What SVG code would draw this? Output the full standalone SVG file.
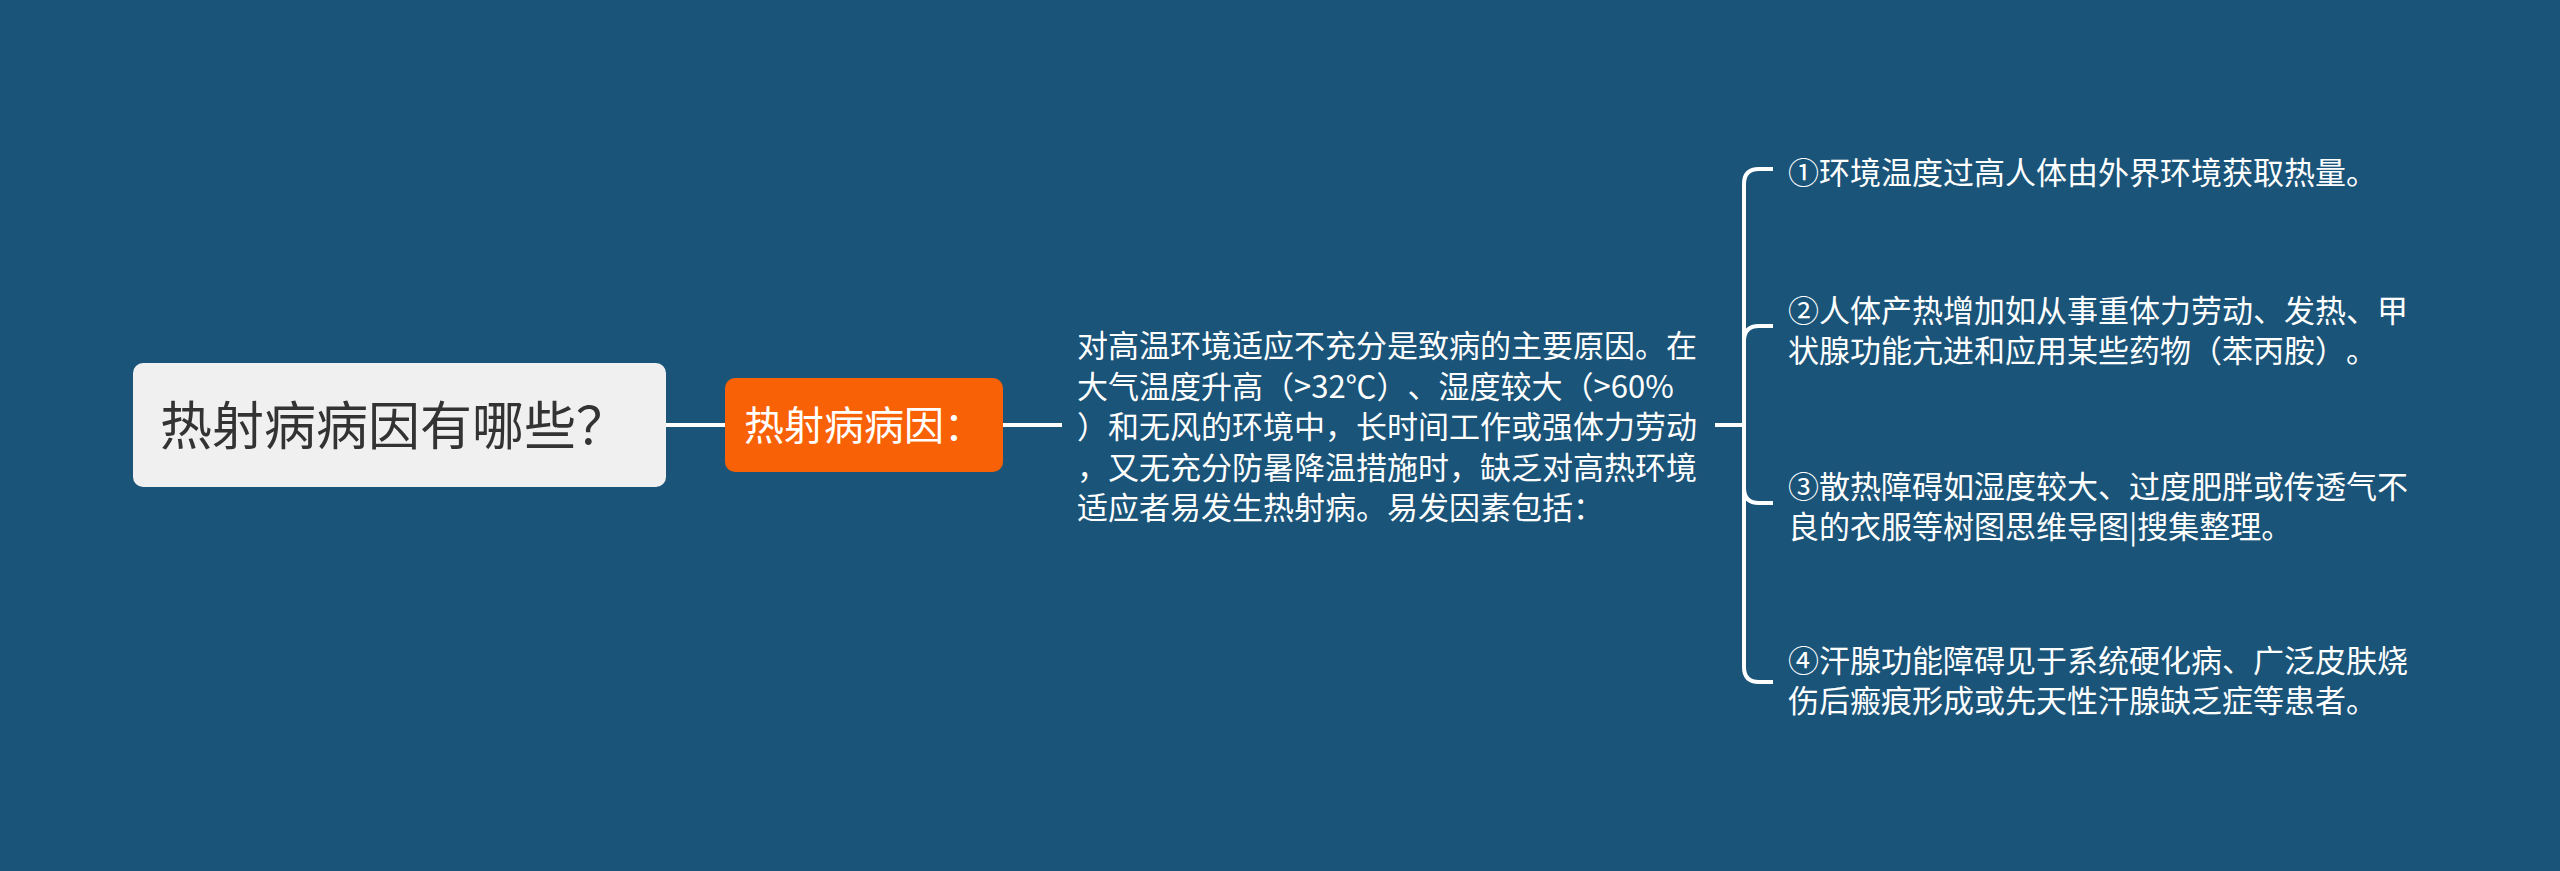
<svg xmlns="http://www.w3.org/2000/svg" width="2560" height="871" viewBox="0 0 2560 871">
<style>
.t{font-family:"Noto Sans CJK SC","Noto Sans",sans-serif;text-spacing-trim:space-all;}
.w{fill:#ffffff;font-size:31px;}
.ln{fill:none;stroke:#ffffff;stroke-width:4;}
</style>
<rect width="2560" height="871" fill="#1a5479"/>
<g id="connectors">
<path class="ln" d="M666 425 H725"/>
<path class="ln" d="M1003 425 H1062"/>
<path class="ln" d="M1715 425 H1744"/>
<path class="ln" d="M1744 425 V184 Q1744 169 1759 169 H1773"/>
<path class="ln" d="M1744 425 V341 Q1744 326 1759 326 H1773"/>
<path class="ln" d="M1744 425 V488 Q1744 503 1759 503 H1773"/>
<path class="ln" d="M1744 425 V667 Q1744 682 1759 682 H1773"/>
</g>
<g id="root">
<rect x="133" y="363" width="533" height="124" rx="10" fill="#f0f0f0"/>
<text class="t" x="160" y="445" font-size="52" fill="#333333">热射病病因有哪些？</text>
</g>
<g id="cause">
<rect x="725" y="378" width="278" height="94" rx="10" fill="#f96106"/>
<text class="t" x="744" y="440" font-size="40" fill="#ffffff">热射病病因：</text>
</g>
<g id="desc">
<text class="t w" x="1077"><tspan x="1077" y="357">对高温环境适应不充分是致病的主要原因。在</tspan><tspan x="1077" y="397.5">大气温度升高（&gt;32℃）、湿度较大（&gt;60%</tspan><tspan x="1077" y="438">）和无风的环境中，长时间工作或强体力劳动</tspan><tspan x="1077" y="478.5">，又无充分防暑降温措施时，缺乏对高热环境</tspan><tspan x="1077" y="519">适应者易发生热射病。易发因素包括：</tspan></text>
</g>
<g id="f1">
<text class="t w" x="1788" y="184">①环境温度过高人体由外界环境获取热量。</text>
</g>
<g id="f2">
<text class="t w"><tspan x="1788" y="322">②人体产热增加如从事重体力劳动、发热、甲</tspan><tspan x="1788" y="362">状腺功能亢进和应用某些药物（苯丙胺）。</tspan></text>
</g>
<g id="f3">
<text class="t w"><tspan x="1788" y="498">③散热障碍如湿度较大、过度肥胖或传透气不</tspan><tspan x="1788" y="538">良的衣服等树图思维导图|搜集整理。</tspan></text>
</g>
<g id="f4">
<text class="t w"><tspan x="1788" y="672">④汗腺功能障碍见于系统硬化病、广泛皮肤烧</tspan><tspan x="1788" y="712">伤后瘢痕形成或先天性汗腺缺乏症等患者。</tspan></text>
</g>
</svg>
